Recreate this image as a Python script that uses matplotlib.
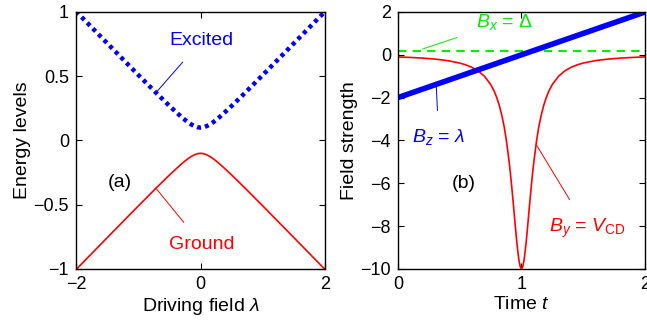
import matplotlib
matplotlib.use("Agg")
import matplotlib.pyplot as plt

plt.rcParams['font.family'] = ['Liberation Sans', 'DejaVu Sans']
plt.rcParams['mathtext.fontset'] = 'custom'
plt.rcParams['mathtext.rm'] = 'Liberation Sans'
plt.rcParams['mathtext.it'] = 'Liberation Sans:italic'
plt.rcParams['mathtext.bf'] = 'Liberation Sans:bold'

# ---- Panel (a): energy levels vs driving field ----
lam = [-2, -1.5, -1, -0.7, -0.5, -0.4, -0.3, -0.25, -0.2, -0.15, -0.1, -0.05, 0,
       0.05, 0.1, 0.15, 0.2, 0.25, 0.3, 0.4, 0.5, 0.7, 1, 1.5, 2]
excited = [1.005, 0.757, 0.510, 0.364, 0.269, 0.224, 0.180, 0.160, 0.141, 0.125, 0.112, 0.103, 0.100,
           0.103, 0.112, 0.125, 0.141, 0.160, 0.180, 0.224, 0.269, 0.364, 0.510, 0.757, 1.005]
ground = [-v for v in excited]

# ---- Panel (b): fields vs time ----
t_lin = [0, 2]
bz = [-2, 2]
bx = [0.2, 0.2]
t = [0, 0.1, 0.2, 0.3, 0.4, 0.5, 0.55, 0.6, 0.65, 0.7, 0.75, 0.78, 0.8, 0.82, 0.84, 0.86, 0.87,
     0.88, 0.9, 0.91, 0.92, 0.93, 0.94, 0.95, 0.96, 0.97, 0.98, 0.99, 1.0,
     1.01, 1.02, 1.03, 1.04, 1.05, 1.06, 1.07, 1.08, 1.09, 1.1, 1.12, 1.13, 1.14, 1.16,
     1.18, 1.2, 1.22, 1.25, 1.3, 1.35, 1.4, 1.45, 1.5, 1.6, 1.7, 1.8, 1.9, 2.0]
by = [-0.099, -0.122, -0.154, -0.200, -0.270, -0.385, -0.470, -0.588, -0.755, -1.00, -1.38, -1.71, -2.00,
      -2.36, -2.81, -3.36, -3.72, -4.10, -5.00, -5.52, -6.10, -6.71, -7.35, -8.00, -8.62, -9.17,
      -9.62, -9.90, -10.0,
      -9.90, -9.62, -9.17, -8.62, -8.00, -7.35, -6.71, -6.10, -5.52, -5.00, -4.10, -3.72, -3.36,
      -2.81, -2.36, -2.00, -1.71, -1.38, -1.00, -0.755, -0.588, -0.470, -0.385, -0.270, -0.200,
      -0.154, -0.122, -0.099]

xticks_a = [-2, 0, 2]
yticks_a = [-1, -0.5, 0, 0.5, 1]
yticklabels_a = ['\u22121', '\u22120.5', '0', '0.5', '1']
xticks_b = [0, 1, 2]
yticks_b = [-10, -8, -6, -4, -2, 0, 2]

fig = plt.figure(figsize=(6.47, 3.24), dpi=100)
ax1 = fig.add_axes([0.1175, 0.170, 0.385, 0.793])
ax2 = fig.add_axes([0.615, 0.170, 0.382, 0.793])

for ax in (ax1, ax2):
    ax.tick_params(direction='in', top=True, right=True, length=4, width=0.8,
                   labelsize=13, pad=5)
    for s in ax.spines.values():
        s.set_linewidth(1.0)

# Panel (a)
ax1.plot(lam, excited, color='#0000ff', lw=3.2, linestyle=(0, (0.9, 0.9)))
ax1.plot(lam, ground, color='#ff0000', lw=1.2)
ax1.set_xlim(-2, 2)
ax1.set_ylim(-1, 1)
ax1.set_xticks(xticks_a)
ax1.set_xticklabels(['\u22122', '0', '2'])
ax1.set_yticks(yticks_a)
ax1.set_yticklabels(yticklabels_a)
ax1.set_xlabel('Driving field $\\lambda$', fontsize=14, labelpad=2)
ax1.set_ylabel('Energy levels', fontsize=14, labelpad=2)
ax1.annotate('Excited', xy=(-0.72, 0.37), xytext=(0.02, 0.78), fontsize=14,
             color='#0000ff', ha='center', va='center',
             arrowprops=dict(arrowstyle='-', color='#0000ff', lw=0.7,
                             shrinkA=10, shrinkB=0))
ax1.annotate('Ground', xy=(-0.72, -0.37), xytext=(0.02, -0.81), fontsize=14,
             color='#ff0000', ha='center', va='center',
             arrowprops=dict(arrowstyle='-', color='#ff0000', lw=0.7,
                             shrinkA=10, shrinkB=0))
ax1.text(-1.3, -0.33, '(a)', fontsize=14, ha='center', va='center')

# Panel (b)
ax2.plot(t_lin, bx, color='#00ee00', lw=1.5, linestyle=(0, (4, 3)))
ax2.plot(t, by, color='#ff0000', lw=1.2)
ax2.plot(t_lin, bz, color='#0000ff', lw=4)
ax2.set_xlim(0, 2)
ax2.set_ylim(-10, 2)
ax2.set_xticks(xticks_b)
ax2.set_yticks(yticks_b)
ax2.set_yticklabels(['\u221210', '\u22128', '\u22126', '\u22124', '\u22122', '0', '2'])
ax2.set_xlabel('Time $t$', fontsize=14, labelpad=2)
ax2.set_ylabel('Field strength', fontsize=14, labelpad=2)
ax2.annotate('$B_x$ = $\\Delta$', xy=(0.2, 0.27), xytext=(0.86, 1.55), fontsize=14,
             color='#00ee00', ha='center', va='center',
             arrowprops=dict(arrowstyle='-', color='#00ee00', lw=0.7,
                             shrinkA=12, shrinkB=0))
ax2.annotate('$B_z$ = $\\lambda$', xy=(0.31, -1.38), xytext=(0.33, -3.85), fontsize=14,
             color='#0000ff', ha='center', va='center',
             arrowprops=dict(arrowstyle='-', color='#0000ff', lw=0.7,
                             shrinkA=10, shrinkB=0))
ax2.annotate('$B_y$ = $V_{\\rm CD}$', xy=(1.12, -4.2), xytext=(1.53, -8.1), fontsize=14,
             color='#ff0000', ha='center', va='center',
             arrowprops=dict(arrowstyle='-', color='#ff0000', lw=0.7,
                             shrinkA=12, shrinkB=0))
ax2.text(0.53, -6.0, '(b)', fontsize=14, ha='center', va='center')

fig.savefig('out.png', dpi=100)
